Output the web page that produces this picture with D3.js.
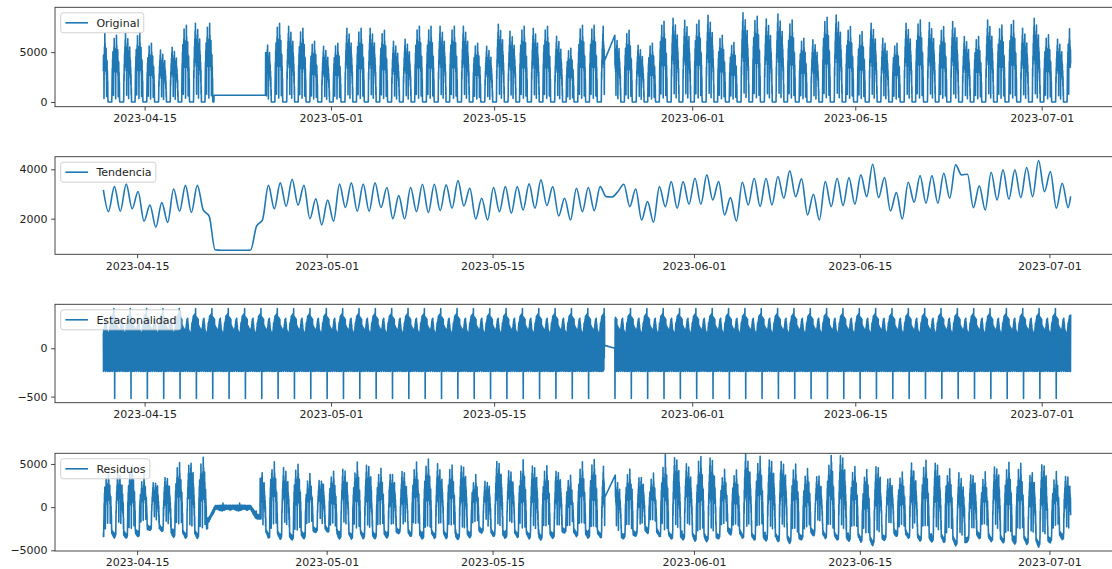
<!DOCTYPE html>
<html><head><meta charset="utf-8">
<script src="https://cdn.jsdelivr.net/npm/d3@7"></script>
<style>
html,body{margin:0;padding:0;background:#fff;overflow:hidden;}
svg{display:block;}
</style></head><body>
<svg id="chart" width="1112" height="569"></svg>
<script>
// ---------------- data ----------------
const panelNames = ["Original", "Tendencia", "Estacionalidad", "Residuos"];
const xTickLabels = ["2023-04-15", "2023-05-01", "2023-05-15", "2023-06-01", "2023-06-15", "2023-07-01"];
const yTicks = [[0, 5000], [2000, 4000], [-500, 0], [-5000, 0, 5000]];
const yDomains = [[-470, 9500], [556, 4511], [-563, 455], [-5080, 6235]];

// sampling of the original series
const seriesStart = "2023-04-11T11:00:00Z";
const seriesEnd = "2023-07-03T11:40:00Z";
const stepMinutes = 20;
const missingAfter = "2023-05-24T11:40:00Z";   // last row before missing rows
const missingUntil = "2023-05-25T08:40:00Z";   // first row after missing rows
const filledFrom = "2023-04-20T23:00:00Z";     // constant-filled stretch
const filledTo = "2023-04-25T09:20:00Z";
const filledValue = 680;

// daily maximum of the original series, one per day from 2023-04-11 to 2023-07-03
const dayStart = "2023-04-11";
const dayPeak = [
  6900, 6700, 6900, 7000, 5900, 5200, 5500, 7700, 7900, 7900,
  null, null, null, null, 6200, 7900, 7600, 7400, 6100, 5600,
  5900, 7400, 7400, 7400, 7200, 6100, 6300, 7600, 7600, 7600,
  7600, 7600, 5900, 5600, 7800, 7100, 7600, 7400, 7600, 6600,
  5400, 7700, 7700, 7600, 6700, 7200, 5700, 5900, 8100, 8400,
  8200, 8200, 8700, 6700, 5970, 8960, 8600, 8330, 8830, 8230,
  6400, 6230, 8500, 8730, 7570, 7070, 7900, 6400, 5900, 7900,
  8230, 7970, 7570, 8070, 6570, 6570, 8230, 7730, 8170, 7400,
  8400, 6730, 6300, 7730
];
// which intraday shape each day follows
const dayShape = "BBABBAABAB" + "AAAAABABBA" + "BABABAABBA" + "BABAAABABA" + "BBBAABABBA" +
                 "ABABBABAAB" + "BABABBAABA" + "BABAABABBA" + "ABAB";
// intraday shapes (share of the day's maximum, every 20 minutes from 00:00)
const profileA = [
  0,0,0,0,0,0,0,0,0,0,0,0,0,0,0,
  .1,.4,.3,.55,.45,.7,.5,.8,.55,.9,.6,1,.55,.8,.5,.75,.45,.7,.1,.6,.55,.78,.5,.85,
  .6,.92,.55,.75,.45,.7,.05,.55,.5,.72,.45,.68,.55,.8,.5,.65,.4,.6,.35,.5,.25,.4,.1,.2,
  0,0,0,0,0,0,0,0,0
];
const profileB = [
  0,0,0,0,0,0,0,0,0,0,0,0,0,0,
  .15,.35,.5,.4,.65,.45,.75,.5,.7,.1,.6,.5,.82,.55,.95,.6,.8,.5,.72,.45,.68,.5,.6,.05,
  .55,.6,.8,.55,1,.6,.85,.5,.75,.45,.7,.5,.78,.4,.62,.08,.5,.45,.6,.35,.45,.2,.3,.05,
  0,0,0,0,0,0,0,0,0,0
];

// one full cycle of the seasonal component (101 rows)
const seasonalCycle = [
  410,-100,330,30,0,-520,300,-240,320,-200,
  280,-230,310,-120,260,-240,300,-180,240,-230,
  200,-210,230,-100,180,-240,150,-200,210,-220,
  120,-160,180,-230,100,-200,160,-240,200,-130,
  140,-220,220,-190,250,-230,280,-210,300,-150,
  260,-240,310,-200,270,-220,240,-120,200,-230,
  160,-210,180,-240,130,-180,110,-220,160,-230,
  90,-150,140,-240,180,-200,220,-230,260,-120,
  240,-220,280,-240,300,-190,330,-230,300,-210,
  340,-150,310,-240,350,-200,320,-230,360,-220,
  330
];
const seasonalPhase = 36;

// trend: value near 02:00 (highs) and 14:00 (lows) of each day, 2023-04-12 .. 2023-07-02
const trendDay0 = "2023-04-12";
const trendHighs = [
  3165, 3300, 3400, 3100, 2550, 2650, 3200, 3350, 3350, 2100,
  720, 720, 720, 1700, 3350, 3450, 3600, 3350, 2800, 2750,
  3400, 3450, 3400, 3450, 3260, 2935, 3260, 3395, 3395, 3368,
  3543, 3232, 2827, 3260, 3300, 3300, 3408, 3570, 3300, 2827,
  3232, 3260, 3300, 2880, 3395, 3205, 2692, 3300, 3503, 3503,
  3638, 3773, 3503, 2854, 3476, 3638, 3638, 3706, 3935, 3611,
  2989, 3503, 3638, 3665, 3773, 4206, 3665, 3057, 3476, 3746,
  3746, 3841, 4179, 3800, 3327, 3881, 3976, 3976, 4071, 4355,
  3908, 3435
];
const trendLows = [
  2286, 2300, 2400, 1900, 1650, 1850, 2300, 2250, 2354, 740,
  720, 720, 730, 1950, 2400, 2500, 2550, 2000, 1750, 1900,
  2450, 2300, 2300, 2450, 2000, 1989, 2286, 2245, 2327, 2421,
  2516, 1989, 1948, 2286, 2218, 2354, 2421, 2530, 2110, 1948,
  2286, 2327, 2894, 3100, 2489, 1948, 1853, 2489, 2421, 2584,
  2584, 2759, 2151, 1908, 2556, 2489, 2556, 2827, 2894, 2151,
  1948, 2489, 2529, 2584, 2894, 2854, 2313, 1989, 2665, 2624,
  2624, 2827, 3773, 2448, 2354, 2759, 2786, 2854, 2894, 3097,
  2421, 2448
];
const trendLast = 2900;

// ---------------- build series ----------------
const DAY = 86400000, HOUR = 3600000;
const step = stepMinutes * 60000;
const t0 = Date.parse(seriesStart), t1 = Date.parse(seriesEnd);
const mA = Date.parse(missingAfter), mU = Date.parse(missingUntil);
const fF = Date.parse(filledFrom), fT = Date.parse(filledTo);
const d0 = Date.parse(dayStart + "T00:00:00Z");

const times = [];
for (let t = t0; t <= t1; t += step) {
  if (t > mA && t < mU) continue;
  times.push(t);
}
const original = times.map(t => {
  if (t >= fF && t < fT) return filledValue;
  const di = Math.floor((t - d0) / DAY);
  const slot = Math.round(((t - d0) % DAY) / step);
  const prof = dayShape[di] === "A" ? profileA : profileB;
  return dayPeak[di] * prof[slot];
});
const P = seasonalCycle.length;
const seasonal = times.map((t, i) => seasonalCycle[(i + seasonalPhase) % P]);

const half = Math.floor(P / 2);
const trendT0 = times[half], trendT1 = times[times.length - 1 - half];
const td0 = Date.parse(trendDay0 + "T00:00:00Z");
const trendPts = [];
trendHighs.forEach((v, k) => {
  trendPts.push([Math.max(td0 + k * DAY + 2 * HOUR, trendT0), v]);
  trendPts.push([td0 + k * DAY + 14 * HOUR, trendLows[k]]);
});
trendPts.push([trendT1, trendLast]);

const bis = d3.bisector(d => d[0]).right;
function trendAt(t) {
  const j = bis(trendPts, t);
  if (j <= 0) return trendPts[0][1];
  if (j >= trendPts.length) return trendPts[trendPts.length - 1][1];
  const a = trendPts[j - 1], b = trendPts[j];
  return a[1] + (b[1] - a[1]) * (t - a[0]) / (b[0] - a[0]);
}
const residPts = [];
for (let i = half; i <= times.length - 1 - half; i++) {
  residPts.push([times[i], original[i] - trendAt(times[i]) - seasonal[i]]);
}

const panels = [
  { pts: times.map((t, i) => [t, original[i]]), curve: d3.curveLinear },
  { pts: trendPts, curve: d3.curveMonotoneX },
  { pts: times.map((t, i) => [t, seasonal[i]]), curve: d3.curveLinear },
  { pts: residPts, curve: d3.curveLinear }
];

// ---------------- draw ----------------
const svg = d3.select("#chart");
const axLeft = 55, axWidth = 1064;
const panelTop = [7.3, 156.7, 304.3, 453.3];
const panelBottom = [106.7, 254.3, 402.7, 551];
const color = "#1f77b4";
const font = "'DejaVu Sans', sans-serif";
const ink = "#222";
const fmt = v => (v < 0 ? "\u2212" + Math.abs(v) : String(v));
const defs = svg.append("defs");

panels.forEach((p, k) => {
  const ext = d3.extent(p.pts, d => d[0]);
  const span = ext[1] - ext[0];
  const x = d3.scaleUtc().domain([ext[0] - 0.05 * span, ext[1] + 0.05 * span]).range([axLeft, axLeft + axWidth]);
  const y = d3.scaleLinear().domain(yDomains[k]).range([panelBottom[k], panelTop[k]]);
  const g = svg.append("g");
  const h = panelBottom[k] - panelTop[k];

  defs.append("clipPath").attr("id", "clip" + k).append("rect")
    .attr("x", axLeft).attr("y", panelTop[k]).attr("width", axWidth).attr("height", h);

  g.append("path").datum(p.pts)
    .attr("clip-path", `url(#clip${k})`)
    .attr("fill", "none").attr("stroke", color).attr("stroke-width", 1.6)
    .attr("stroke-linejoin", "round")
    .attr("d", d3.line().x(d => x(d[0])).y(d => y(d[1])).curve(p.curve));

  g.append("rect").attr("x", axLeft).attr("y", panelTop[k]).attr("width", axWidth).attr("height", h)
    .attr("fill", "none").attr("stroke", "#333").attr("stroke-width", 0.9);

  const xa = d3.axisBottom(x)
    .tickValues(xTickLabels.map(s => new Date(s + "T00:00:00Z")))
    .tickFormat((d, i) => xTickLabels[i]).tickSize(3.9).tickPadding(3.5);
  const gx = g.append("g").attr("transform", `translate(0,${panelBottom[k]})`).call(xa);
  gx.select(".domain").remove();
  gx.attr("font-size", 11).attr("font-family", font);
  gx.selectAll("line").attr("stroke", "#333").attr("stroke-width", 0.9);
  gx.selectAll("text").attr("fill", ink);

  const ya = d3.axisLeft(y).tickValues(yTicks[k]).tickFormat(fmt).tickSize(3.9).tickPadding(3.5);
  const gy = g.append("g").attr("transform", `translate(${axLeft},0)`).call(ya);
  gy.select(".domain").remove();
  gy.attr("font-size", 11).attr("font-family", font);
  gy.selectAll("line").attr("stroke", "#333").attr("stroke-width", 0.9);
  gy.selectAll("text").attr("fill", ink);

  // legend
  const lg = g.append("g").attr("transform", `translate(${axLeft + 5.7},${panelTop[k] + 5.5})`);
  const box = lg.append("rect").attr("height", 20).attr("rx", 2.5).attr("ry", 2.5)
    .attr("fill", "#fff").attr("fill-opacity", 0.8).attr("stroke", "#ccc").attr("stroke-width", 0.9);
  lg.append("line").attr("x1", 4.7).attr("x2", 27.3).attr("y1", 10).attr("y2", 10)
    .attr("stroke", color).attr("stroke-width", 1.6);
  const tx = lg.append("text").attr("x", 35.7).attr("y", 10).attr("dy", "0.35em")
    .attr("font-size", 11).attr("font-family", font).attr("fill", ink).text(panelNames[k]);
  const tw = tx.node().getComputedTextLength();
  box.attr("width", tw + 40);
});
</script>
</body></html>
